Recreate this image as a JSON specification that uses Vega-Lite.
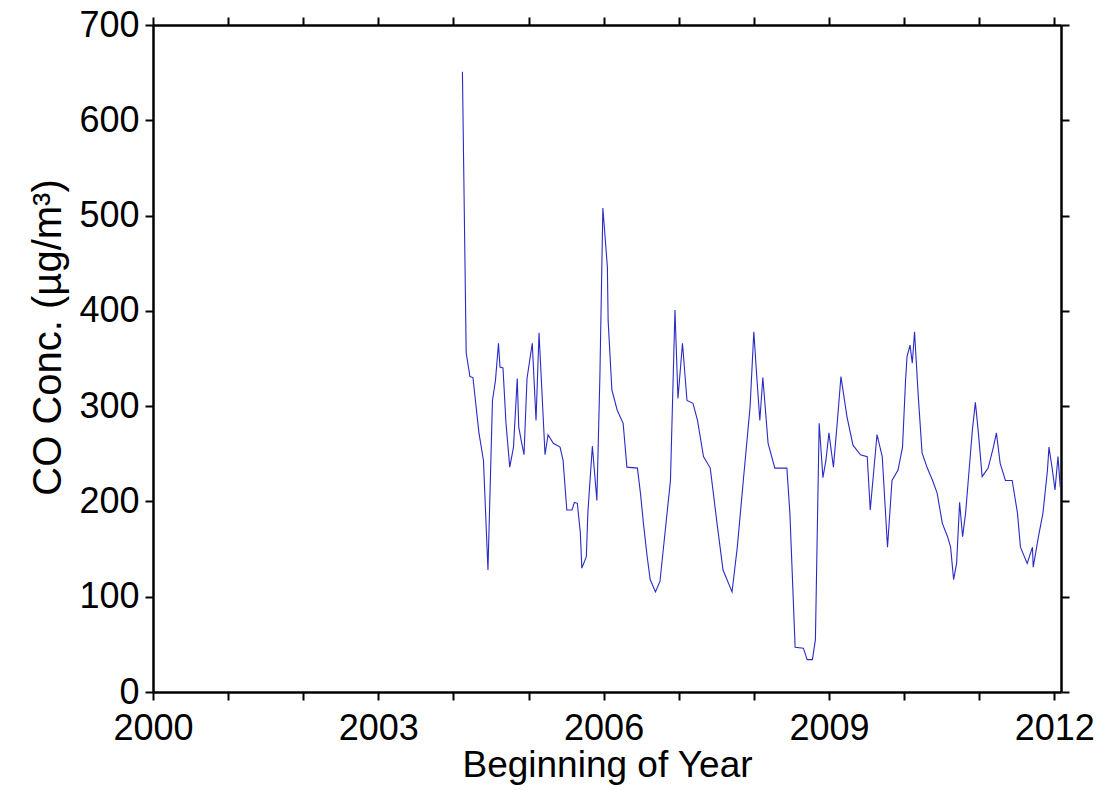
{
  "$schema": "https://vega.github.io/schema/vega-lite/v6.json",
  "width": 908,
  "height": 667,
  "autosize": "none",
  "padding": {"left": 153, "top": 25, "right": 43, "bottom": 98},
  "background": "white",
  "config": {
    "view": {"stroke": null},
    "font": "Liberation Sans",
    "axis": {
      "grid": false,
      "domainColor": "black",
      "domainWidth": 2.5,
      "tickColor": "black",
      "tickWidth": 2,
      "tickSize": 8,
      "labelColor": "black",
      "labelFont": "Liberation Sans",
      "labelFontSize": 36,
      "titleFont": "Liberation Sans",
      "titleFontSize": 37,
      "titleFontWeight": "normal",
      "titleColor": "black"
    }
  },
  "data": {
    "values": [
      {"year": 2004.12, "co": 651},
      {"year": 2004.17, "co": 356},
      {"year": 2004.22, "co": 331},
      {"year": 2004.26, "co": 330},
      {"year": 2004.34, "co": 272},
      {"year": 2004.40, "co": 243},
      {"year": 2004.46, "co": 128},
      {"year": 2004.52, "co": 306},
      {"year": 2004.56, "co": 327},
      {"year": 2004.60, "co": 366},
      {"year": 2004.62, "co": 341},
      {"year": 2004.66, "co": 340},
      {"year": 2004.70, "co": 282},
      {"year": 2004.75, "co": 236},
      {"year": 2004.80, "co": 257},
      {"year": 2004.85, "co": 329},
      {"year": 2004.87, "co": 278},
      {"year": 2004.91, "co": 261},
      {"year": 2004.94, "co": 249},
      {"year": 2004.98, "co": 329},
      {"year": 2005.05, "co": 366},
      {"year": 2005.10, "co": 285},
      {"year": 2005.14, "co": 377},
      {"year": 2005.22, "co": 249},
      {"year": 2005.26, "co": 270},
      {"year": 2005.33, "co": 261},
      {"year": 2005.42, "co": 257},
      {"year": 2005.46, "co": 243},
      {"year": 2005.51, "co": 191},
      {"year": 2005.58, "co": 191},
      {"year": 2005.61, "co": 199},
      {"year": 2005.65, "co": 198},
      {"year": 2005.69, "co": 167},
      {"year": 2005.71, "co": 130},
      {"year": 2005.77, "co": 142},
      {"year": 2005.79, "co": 188},
      {"year": 2005.85, "co": 258},
      {"year": 2005.91, "co": 201},
      {"year": 2005.95, "co": 330},
      {"year": 2005.99, "co": 508},
      {"year": 2006.05, "co": 446},
      {"year": 2006.06, "co": 390},
      {"year": 2006.11, "co": 317},
      {"year": 2006.18, "co": 296},
      {"year": 2006.26, "co": 282},
      {"year": 2006.31, "co": 236},
      {"year": 2006.45, "co": 235},
      {"year": 2006.49, "co": 209},
      {"year": 2006.53, "co": 177},
      {"year": 2006.58, "co": 142},
      {"year": 2006.62, "co": 118},
      {"year": 2006.69, "co": 105},
      {"year": 2006.75, "co": 116},
      {"year": 2006.89, "co": 222},
      {"year": 2006.95, "co": 401},
      {"year": 2006.99, "co": 308},
      {"year": 2007.05, "co": 366},
      {"year": 2007.11, "co": 306},
      {"year": 2007.19, "co": 303},
      {"year": 2007.25, "co": 285},
      {"year": 2007.33, "co": 247},
      {"year": 2007.42, "co": 235},
      {"year": 2007.51, "co": 177},
      {"year": 2007.59, "co": 128},
      {"year": 2007.71, "co": 105},
      {"year": 2007.78, "co": 152},
      {"year": 2007.86, "co": 222},
      {"year": 2007.95, "co": 299},
      {"year": 2008.00, "co": 378},
      {"year": 2008.04, "co": 330},
      {"year": 2008.08, "co": 285},
      {"year": 2008.12, "co": 330},
      {"year": 2008.19, "co": 261},
      {"year": 2008.28, "co": 235},
      {"year": 2008.44, "co": 235},
      {"year": 2008.48, "co": 188},
      {"year": 2008.55, "co": 47},
      {"year": 2008.66, "co": 46},
      {"year": 2008.71, "co": 34},
      {"year": 2008.78, "co": 34},
      {"year": 2008.82, "co": 55},
      {"year": 2008.87, "co": 282},
      {"year": 2008.92, "co": 225},
      {"year": 2008.96, "co": 243},
      {"year": 2009.00, "co": 272},
      {"year": 2009.06, "co": 236},
      {"year": 2009.11, "co": 282},
      {"year": 2009.16, "co": 331},
      {"year": 2009.24, "co": 289},
      {"year": 2009.32, "co": 259},
      {"year": 2009.42, "co": 249},
      {"year": 2009.51, "co": 247},
      {"year": 2009.55, "co": 191},
      {"year": 2009.64, "co": 270},
      {"year": 2009.71, "co": 247},
      {"year": 2009.78, "co": 152},
      {"year": 2009.84, "co": 222},
      {"year": 2009.92, "co": 233},
      {"year": 2009.98, "co": 257},
      {"year": 2010.02, "co": 327},
      {"year": 2010.04, "co": 352},
      {"year": 2010.08, "co": 364},
      {"year": 2010.11, "co": 345},
      {"year": 2010.14, "co": 378},
      {"year": 2010.19, "co": 310},
      {"year": 2010.24, "co": 251},
      {"year": 2010.31, "co": 235},
      {"year": 2010.38, "co": 222},
      {"year": 2010.44, "co": 209},
      {"year": 2010.51, "co": 177},
      {"year": 2010.58, "co": 163},
      {"year": 2010.62, "co": 152},
      {"year": 2010.66, "co": 118},
      {"year": 2010.70, "co": 135},
      {"year": 2010.74, "co": 199},
      {"year": 2010.78, "co": 163},
      {"year": 2010.82, "co": 188},
      {"year": 2010.91, "co": 275},
      {"year": 2010.95, "co": 304},
      {"year": 2010.99, "co": 272},
      {"year": 2011.04, "co": 226},
      {"year": 2011.12, "co": 235},
      {"year": 2011.19, "co": 257},
      {"year": 2011.23, "co": 272},
      {"year": 2011.28, "co": 240},
      {"year": 2011.35, "co": 222},
      {"year": 2011.44, "co": 222},
      {"year": 2011.51, "co": 188},
      {"year": 2011.55, "co": 152},
      {"year": 2011.64, "co": 135},
      {"year": 2011.71, "co": 152},
      {"year": 2011.72, "co": 131},
      {"year": 2011.79, "co": 163},
      {"year": 2011.85, "co": 188},
      {"year": 2011.91, "co": 233},
      {"year": 2011.93, "co": 257},
      {"year": 2011.97, "co": 236},
      {"year": 2012.01, "co": 212},
      {"year": 2012.05, "co": 247},
      {"year": 2012.08, "co": 215}
    ]
  },
  "layer": [
    {
      "mark": {"type": "line", "color": "#2a2ac4", "strokeWidth": 1.1, "clip": true},
      "encoding": {
        "x": {
          "field": "year",
          "type": "quantitative",
          "scale": {"domain": [2000, 2012.09], "nice": false, "zero": false},
          "axis": {
            "orient": "bottom",
            "values": [2000, 2001, 2002, 2003, 2004, 2005, 2006, 2007, 2008, 2009, 2010, 2011, 2012],
            "format": "d",
            "labelExpr": "(datum.value - 2000) % 3 == 0 ? datum.label : ''",
            "labelPadding": 11,
            "labelFlush": false,
            "labelOverlap": false,
            "title": "Beginning of Year",
            "titlePadding": 1
          }
        },
        "y": {
          "field": "co",
          "type": "quantitative",
          "scale": {"domain": [0, 700], "nice": false},
          "axis": {
            "orient": "left",
            "values": [0, 100, 200, 300, 400, 500, 600, 700],
            "labelPadding": 6,
            "labelFlush": false,
            "labelOverlap": false,
            "title": "CO Conc. (µg/m³)",
            "titleFontSize": 40,
            "titleY": 312,
            "titlePadding": 10
          }
        }
      }
    },
    {
      "mark": {"type": "line", "opacity": 0},
      "encoding": {
        "x": {
          "field": "year",
          "type": "quantitative",
          "axis": {
            "orient": "top",
            "values": [2000, 2001, 2002, 2003, 2004, 2005, 2006, 2007, 2008, 2009, 2010, 2011, 2012],
            "labels": false,
            "title": null
          }
        },
        "y": {
          "field": "co",
          "type": "quantitative",
          "axis": {
            "orient": "right",
            "values": [0, 100, 200, 300, 400, 500, 600, 700],
            "labels": false,
            "title": null
          }
        }
      }
    }
  ],
  "resolve": {"axis": {"x": "independent", "y": "independent"}}
}
